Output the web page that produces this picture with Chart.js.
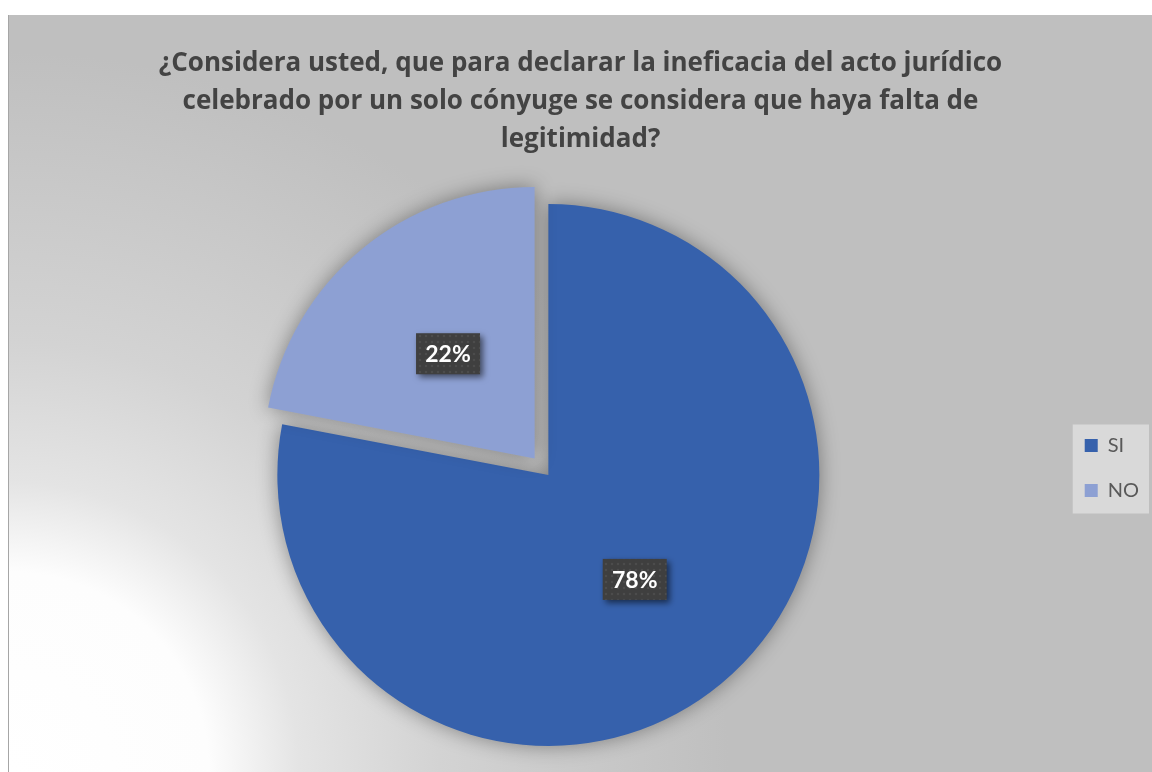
<!DOCTYPE html>
<html>
<head>
<meta charset="utf-8">
<script src="https://cdn.jsdelivr.net/npm/chart.js@4.4.1/dist/chart.umd.min.js"></script>
<style>
  html, body { margin: 0; padding: 0; background: #ffffff; }
  body { width: 1152px; height: 772px; overflow: hidden; position: relative; }
  #box {
    position: absolute; left: 8px; top: 15px; width: 1143px; height: 757px;
    overflow: hidden; border-left: 1px solid #a6a6a6;
    background: radial-gradient(circle at 0px 757px, #ffffff 0px, #fdfdfd 200px, #e4e4e4 290px, #d3d3d3 430px, #bfbfbf 720px);
  }
  #wrap { position: absolute; left: 0; top: 0; width: 1143px; height: 790px; }
</style>
</head>
<body>
<div id="box"><div id="wrap"><canvas id="pieChart"></canvas></div></div>
<script>
// datos
const categories = ['SI', 'NO'];
const percentages = [78, 22];
const titleLines = [
    '¿Considera usted, que para declarar la ineficacia del acto jurídico',
    'celebrado por un solo cónyuge se considera que haya falta de',
    'legitimidad?'
];

document.addEventListener('DOMContentLoaded', function() {
    // patrón de puntos para las etiquetas
    const dots = document.createElement('canvas');
    dots.width = 6; dots.height = 6;
    const dctx = dots.getContext('2d');
    dctx.fillStyle = '#3f3f3f';
    dctx.fillRect(0, 0, 6, 6);
    dctx.fillStyle = 'rgba(255,255,255,0.07)';
    dctx.beginPath(); dctx.arc(3, 3, 1.3, 0, Math.PI * 2); dctx.fill();

    // sombra de la torta + etiquetas de datos
    const pieDecor = {
        id: 'pieDecor',
        beforeDatasetsDraw(chart) {
            const ctx = chart.ctx;
            ctx.save();
            ctx.shadowColor = 'rgba(0,0,0,0.38)';
            ctx.shadowBlur = 20;
            ctx.shadowOffsetX = 0;
            ctx.shadowOffsetY = 0;
        },
        afterDatasetsDraw(chart) {
            const ctx = chart.ctx;
            ctx.restore();
            const meta = chart.getDatasetMeta(0);
            const pattern = ctx.createPattern(dots, 'repeat');
            meta.data.forEach((arc, i) => {
                const mid = (arc.startAngle + arc.endAngle) / 2;
                const off = (arc.options.offset || 0) / 4 * (2 - Math.sin(Math.min(Math.PI, arc.circumference)));
                const r = arc.outerRadius / 2 + off;
                const x = arc.x + Math.cos(mid) * r;
                const y = arc.y + Math.sin(mid) * r;
                const w = 64, h = 41;
                ctx.save();
                ctx.shadowColor = 'rgba(0,0,0,0.55)';
                ctx.shadowBlur = 6;
                ctx.shadowOffsetX = 3;
                ctx.shadowOffsetY = 3;
                ctx.fillStyle = pattern;
                ctx.fillRect(x - w / 2, y - h / 2, w, h);
                ctx.restore();
                ctx.save();
                ctx.fillStyle = '#ffffff';
                ctx.font = 'bold 23px Lato';
                ctx.textAlign = 'center';
                ctx.textBaseline = 'middle';
                ctx.fillText(percentages[i] + '%', x, y + 1);
                ctx.restore();
            });
        }
    };

    // fondo de la leyenda y ajustes de posición
    const legendBox = {
        id: 'legendBox',
        afterLayout(chart) {
            if (chart.legend) {
                chart.legend.top -= 7;
                chart.legend.bottom -= 7;
            }
            // título centrado en todo el ancho del gráfico
            if (chart.titleBlock) {
                chart.titleBlock.left = 0;
                chart.titleBlock.right = chart.width;
                chart.titleBlock.width = chart.width;
            }
        },
        beforeDraw(chart) {
            const hb = chart.legend && chart.legend.legendHitBoxes;
            if (!hb || !hb.length) return;
            const left = Math.min(...hb.map(b => b.left)) - 12;
            const right = Math.max(...hb.map(b => b.left + b.width)) + 10;
            const top = Math.min(...hb.map(b => b.top)) - 11;
            const bottom = Math.max(...hb.map(b => b.top + b.height)) + 13;
            const ctx = chart.ctx;
            ctx.save();
            ctx.fillStyle = '#d9d9d9';
            ctx.fillRect(left, top, right - left, bottom - top);
            ctx.restore();
        }
    };

    new Chart(document.getElementById('pieChart'), {
        type: 'pie',
        data: {
            labels: categories,
            datasets: [{
                data: percentages,
                backgroundColor: ['#3661AC', '#8DA0D3'],
                borderWidth: 0,
                offset: [0, 86],
                radius: 271
            }]
        },
        options: {
            responsive: true,
            maintainAspectRatio: false,
            animation: false,
            layout: {
                padding: { left: 28, right: 3, top: 30, bottom: 14 }
            },
            plugins: {
                title: {
                    display: true,
                    text: titleLines,
                    color: '#434343',
                    font: { family: 'Open Sans', size: 26, weight: 'bold', lineHeight: 1.4615 },
                    padding: { top: 0, bottom: 0 }
                },
                legend: {
                    position: 'right',
                    fullSize: false,
                    labels: {
                        boxWidth: 13,
                        boxHeight: 13,
                        padding: 25,
                        color: '#595959',
                        font: { family: 'Lato', size: 20 }
                    }
                },
                tooltip: { enabled: false }
            }
        },
        plugins: [legendBox, pieDecor]
    });
});
</script>
</body>
</html>
